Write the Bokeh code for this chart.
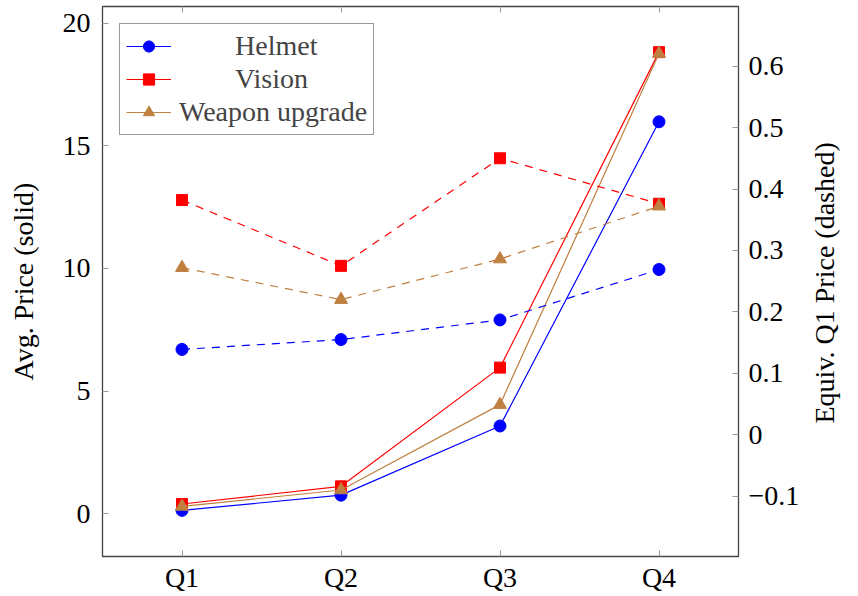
import math
from bokeh.plotting import figure
from bokeh.models import Range1d, LinearAxis, FixedTicker, Legend, LegendItem
from bokeh.embed import file_html
from bokeh.resources import INLINE

# ---------------- data ----------------
quarters = ["Q1", "Q2", "Q3", "Q4"]
x_pos = [1, 2, 3, 4]

# Avg. price (solid lines, left axis)
helmet_avg = [0.14, 0.76, 3.58, 15.98]
vision_avg = [0.40, 1.12, 5.96, 18.82]
weapon_avg = [0.30, 0.97, 4.45, 18.76]

# Equivalent Q1 price (dashed lines, right axis)
helmet_equiv = [0.139, 0.155, 0.187, 0.269]
vision_equiv = [0.382, 0.275, 0.450, 0.376]
weapon_equiv = [0.272, 0.220, 0.286, 0.372]

left_ticks = [0, 5, 10, 15, 20]
right_ticks = [-0.1, 0, 0.1, 0.2, 0.3, 0.4, 0.5, 0.6]
right_tick_labels = ["\u22120.1", "0", "0.1", "0.2", "0.3", "0.4", "0.5", "0.6"]

series_names = ["Helmet", "Vision", "Weapon upgrade"]
colors = ["#0000ff", "#ff0000", "#bf8040"]
markers = ["circle", "square", "triangle"]
marker_sizes = [12, 11, 13]

FONT = "Liberation Serif"
FS = "28px"
NBSP = "\u00a0"

W, H = 858, 596
ML, MR, MT, MB = 102, 119, 6, 40

p = figure(width=W, height=H, output_backend="svg", toolbar_location=None,
           x_range=Range1d(0.5, 4.5), y_range=Range1d(-1.74, 20.68),
           min_border_left=ML, min_border_right=MR, min_border_top=MT,
           min_border_bottom=MB)
p.extra_y_ranges = {"right": Range1d(-0.198, 0.697)}
p.xgrid.visible = False
p.ygrid.visible = False
p.outline_line_color = "#444444"
p.outline_line_width = 1.3
p.background_fill_color = "white"
p.border_fill_color = "white"

xa = p.below[0]
ya = p.left[0]

right_axis = LinearAxis(y_range_name="right")
p.add_layout(right_axis, "right")
top_axis = LinearAxis()
p.add_layout(top_axis, "above")

xa.ticker = FixedTicker(ticks=x_pos)
xa.major_label_overrides = {x: q for x, q in zip(x_pos, quarters)}
top_axis.ticker = FixedTicker(ticks=x_pos)
top_axis.major_label_text_font_size = "0px"
top_axis.major_label_standoff = 0
top_axis.major_label_text_alpha = 0
ya.ticker = FixedTicker(ticks=left_ticks)
right_axis.ticker = FixedTicker(ticks=right_ticks)
right_axis.major_label_overrides = {t: s for t, s in zip(right_ticks, right_tick_labels)}

for ax in [xa, ya, right_axis, top_axis]:
    ax.axis_line_color = None
    ax.major_tick_in = 6
    ax.major_tick_out = 0
    ax.minor_tick_line_color = None
    ax.major_tick_line_color = "#999999"
    ax.major_tick_line_width = 1
    ax.major_label_text_font = FONT
    ax.major_label_text_color = "black"
    ax.axis_label_text_font = FONT
    ax.axis_label_text_font_style = "normal"
    ax.axis_label_text_color = "black"
for ax in [xa, ya, right_axis]:
    ax.major_label_text_font_size = FS
    ax.axis_label_text_font_size = FS

xa.major_label_standoff = 5
ya.major_label_standoff = 12
right_axis.major_label_standoff = 10
ya.axis_label = "Avg. Price (solid)"
ya.axis_label_standoff = 21

right_title = "Equiv. Q1 Price (dashed)"
if "axis_label_align" in right_axis.properties():
    # reads bottom-to-top like the reference; text starts at the frame bottom,
    # so lead it with non-breaking spaces to centre it along the axis
    right_axis.axis_label_orientation = math.pi / 2
    right_axis.axis_label_align = "start"
    right_axis.axis_label = NBSP * 19 + right_title
    right_axis.axis_label_standoff = 22
else:
    right_axis.axis_label = right_title
    right_axis.axis_label_standoff = 20

avg_series = [helmet_avg, vision_avg, weapon_avg]
eq_series = [helmet_equiv, vision_equiv, weapon_equiv]

# legend labels are centred in their column in the reference
pad = {"Helmet": 8, "Vision": 8, "Weapon upgrade": 0}

items = []
for name, col, mk, ms, ys in zip(series_names, colors, markers, marker_sizes, avg_series):
    ln = p.line(x_pos, ys, line_color=col, line_width=1.2)
    sc = p.scatter(x_pos, ys, marker=mk, size=ms, fill_color=col, line_color=col)
    items.append(LegendItem(label=NBSP * pad[name] + name, renderers=[ln, sc]))

for name, col, mk, ms, ys in zip(series_names, colors, markers, marker_sizes, eq_series):
    p.line(x_pos, ys, line_color=col, line_width=1.2, line_dash="8 7", y_range_name="right")
    p.scatter(x_pos, ys, marker=mk, size=ms, fill_color=col, line_color=col, y_range_name="right")

legend = Legend(items=items, location="top_left", margin=17, padding=6, spacing=1,
                glyph_width=45, glyph_height=28, label_height=28, label_standoff=8,
                label_text_font=FONT, label_text_font_size=FS,
                border_line_color="#333333", border_line_width=1.2,
                background_fill_color="white", background_fill_alpha=1.0)
p.add_layout(legend)

open("out.html", "w").write(file_html(p, INLINE))
